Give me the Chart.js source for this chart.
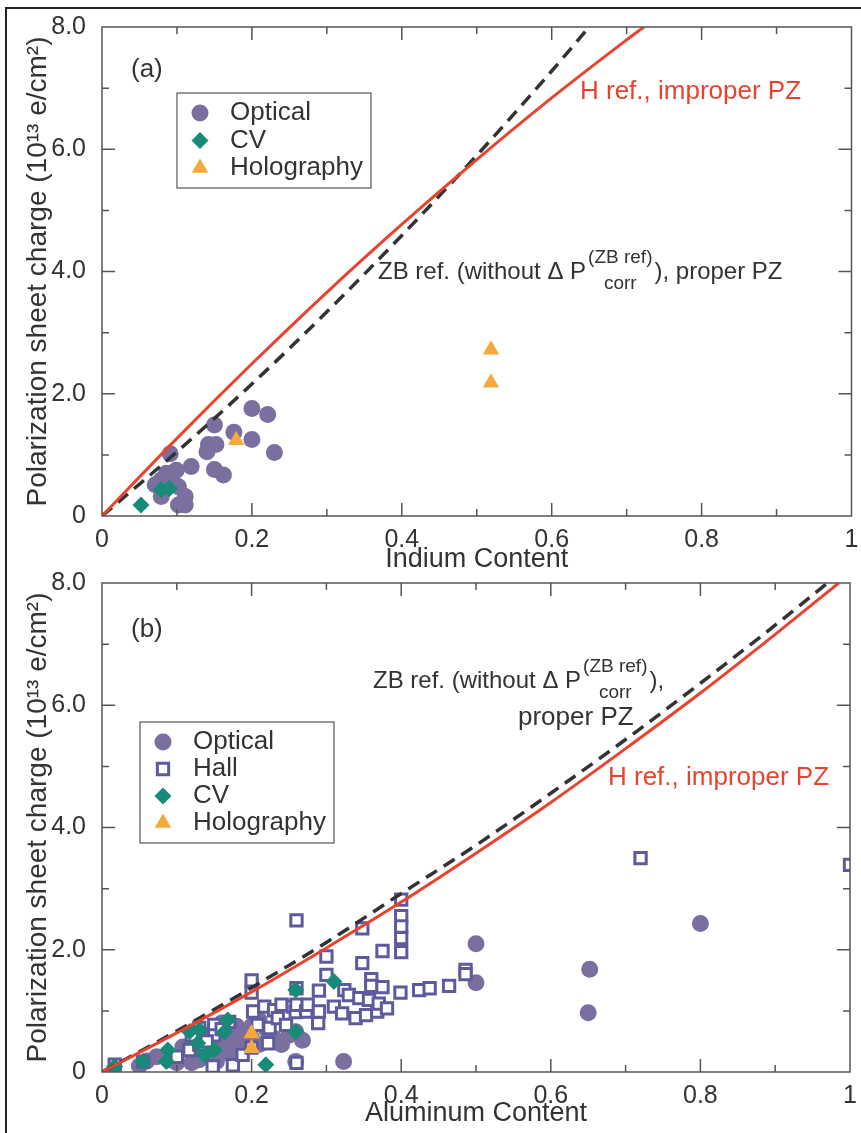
<!DOCTYPE html>
<html>
<head>
<meta charset="utf-8">
<script src="https://cdn.jsdelivr.net/npm/chart.js@4.4.1/dist/chart.umd.min.js"></script>
<style>
  body { margin: 0; background: #fff; width: 861px; height: 1133px; overflow: hidden; position: relative; }
  #frame { position: absolute; left: 5px; top: 7px; width: 900px; height: 1200px; border: 2px solid #222; }
  canvas { position: absolute; left: 0; }
  #chartA { top: 0; }
  #chartB { top: 560px; }
</style>
</head>
<body>
<div id="frame"></div>
<canvas id="chartA" width="861" height="580"></canvas>
<canvas id="chartB" width="861" height="573"></canvas>
<script>
// ---- panel (a): indium ----
const inOpticalX = [0.200, 0.221, 0.150, 0.176, 0.200, 0.142, 0.152, 0.230, 0.091, 0.140, 0.119, 0.150, 0.162, 0.099, 0.086, 0.079, 0.071, 0.102, 0.079, 0.111, 0.102, 0.111, 0.090, 0.095]
const inOpticalY = [1.76, 1.66, 1.49, 1.37, 1.25, 1.17, 1.17, 1.04, 1.02, 1.05, 0.81, 0.76, 0.67, 0.75, 0.70, 0.59, 0.51, 0.48, 0.32, 0.32, 0.18, 0.18, 0.62, 0.55]
const inCvX = [0.052, 0.079, 0.090]
const inCvY = [0.18, 0.43, 0.45]
const inHoloX = [0.179, 0.519, 0.519]
const inHoloY = [1.24, 2.72, 2.18]
const inHrefX = [0, 0.1, 0.2, 0.3, 0.4, 0.5, 0.6, 0.7, 0.723]
const inHrefY = [0, 1.27, 2.49, 3.66, 4.77, 5.83, 6.84, 7.79, 8.0]
const inZbX = [0, 0.1, 0.2, 0.3, 0.4, 0.5, 0.6, 0.65]
const inZbY = [0, 1.05, 2.16, 3.34, 4.59, 5.90, 7.28, 8.0]

// ---- panel (b): aluminum ----
const alOpticalX = [0.050, 0.060, 0.073, 0.090, 0.100, 0.108, 0.120, 0.126, 0.140, 0.140, 0.150, 0.153, 0.160, 0.161, 0.168, 0.170, 0.179, 0.180, 0.184, 0.190, 0.200, 0.210, 0.230, 0.250, 0.259, 0.259, 0.268, 0.323, 0.130, 0.150, 0.170, 0.180, 0.200, 0.220, 0.240, 0.160, 0.120, 0.210, 0.170, 0.500, 0.500, 0.652, 0.650, 0.800]
const alOpticalY = [0.10, 0.18, 0.25, 0.20, 0.15, 0.41, 0.30, 0.50, 0.60, 0.35, 0.45, 0.17, 0.80, 0.52, 0.66, 0.30, 0.55, 0.75, 0.41, 0.60, 0.75, 0.45, 0.55, 0.60, 0.17, 0.66, 0.52, 0.17, 0.20, 0.62, 0.50, 0.30, 0.55, 0.70, 0.45, 0.35, 0.15, 0.85, 0.75, 2.10, 1.46, 1.68, 0.97, 2.43]
const alHallX = [0.017, 0.055, 0.100, 0.117, 0.130, 0.150, 0.150, 0.148, 0.175, 0.188, 0.160, 0.170, 0.130, 0.120, 0.140, 0.200, 0.200, 0.202, 0.200, 0.208, 0.217, 0.222, 0.224, 0.230, 0.235, 0.246, 0.240, 0.255, 0.259, 0.260, 0.260, 0.260, 0.260, 0.273, 0.275, 0.289, 0.290, 0.290, 0.300, 0.300, 0.310, 0.321, 0.324, 0.330, 0.339, 0.344, 0.348, 0.348, 0.353, 0.357, 0.360, 0.360, 0.368, 0.370, 0.375, 0.375, 0.381, 0.399, 0.400, 0.400, 0.400, 0.400, 0.400, 0.424, 0.438, 0.464, 0.486, 0.486, 0.720, 1.000]
const alHallY = [0.12, 0.17, 0.25, 0.36, 0.45, 0.77, 0.60, 0.09, 0.11, 0.28, 0.70, 0.82, 0.72, 0.60, 0.50, 1.50, 1.30, 0.99, 0.40, 0.77, 1.07, 0.47, 0.72, 1.01, 0.88, 0.77, 1.10, 1.07, 0.98, 2.48, 1.37, 1.10, 0.15, 0.99, 1.10, 0.80, 1.33, 0.99, 1.89, 1.59, 1.07, 0.96, 1.34, 1.26, 0.88, 1.21, 2.35, 1.78, 0.93, 1.18, 1.52, 1.41, 0.99, 1.12, 1.98, 1.39, 1.04, 1.30, 2.82, 2.55, 2.38, 2.19, 1.96, 1.34, 1.37, 1.41, 1.67, 1.60, 3.50, 3.39]
const alCvX = [0.017, 0.055, 0.088, 0.086, 0.117, 0.130, 0.128, 0.137, 0.150, 0.164, 0.168, 0.219, 0.259, 0.259, 0.310]
const alCvY = [0.09, 0.17, 0.36, 0.17, 0.66, 0.69, 0.47, 0.28, 0.36, 0.66, 0.85, 0.12, 1.34, 0.66, 1.48]
const alHoloX = [0.200, 0.200]
const alHoloY = [0.63, 0.39]
const alHrefX = [0, 0.1, 0.2, 0.3, 0.4, 0.5, 0.6, 0.7, 0.8, 0.9, 0.985]
const alHrefY = [0, 0.64, 1.31, 2.03, 2.78, 3.58, 4.41, 5.29, 6.20, 7.16, 8.0]
const alZbX = [0, 0.1, 0.2, 0.3, 0.4, 0.5, 0.6, 0.7, 0.8, 0.9, 0.97]
const alZbY = [0, 0.67, 1.38, 2.12, 2.92, 3.71, 4.56, 5.44, 6.36, 7.31, 8.0]

// ---- axes ----
const xTicks = [0, 0.2, 0.4, 0.6, 0.8, 1]
const xTickLabels = ['0', '0.2', '0.4', '0.6', '0.8', '1']
const yTicks = [0, 2, 4, 6, 8]
const yTickLabels = ['0', '2.0', '4.0', '6.0', '8.0']

const C_OPT = '#7a6f9f', C_HALL = '#5d5b9c', C_CV = '#178a78', C_HOLO = '#f6a83c'
const C_RED = '#e8432e', C_DASH = '#333333', C_TXT = '#333333'
const FONT = "'Liberation Sans', Arial, sans-serif"

const pts = (xs, ys) => xs.map((x, i) => ({ x, y: ys[i] }))

function curve(label, xs, ys, color, dash) {
    return {
        label, data: pts(xs, ys), showLine: true, borderColor: color, borderWidth: dash ? 3.5 : 3,
        borderDash: dash || [], pointRadius: 0, cubicInterpolationMode: 'monotone', order: 0
    }
}
function marks(label, xs, ys, style, r, fill, border, bw, order) {
    return {
        label, data: pts(xs, ys), pointStyle: style, pointRadius: r,
        backgroundColor: fill, borderColor: border, borderWidth: bw, order
    }
}

// inward ticks + box around plot area
const frameTicks = {
    id: 'frameTicks',
    afterDraw(chart) {
        const { ctx, chartArea: a, scales: { x, y } } = chart
        ctx.save()
        ctx.strokeStyle = '#555'
        ctx.lineWidth = 1.5
        ctx.strokeRect(a.left, a.top, a.right - a.left, a.bottom - a.top)
        ctx.beginPath()
        for (let i = 1; i < 10; i++) {
            const px = x.getPixelForValue(i / 10), len = i % 2 == 0 ? 13 : 7
            ctx.moveTo(px, a.bottom); ctx.lineTo(px, a.bottom - len)
            ctx.moveTo(px, a.top); ctx.lineTo(px, a.top + len)
        }
        for (let i = 1; i < 8; i++) {
            const py = y.getPixelForValue(i), len = i % 2 == 0 ? 13 : 7
            ctx.moveTo(a.left, py); ctx.lineTo(a.left + len, py)
            ctx.moveTo(a.right, py); ctx.lineTo(a.right - len, py)
        }
        ctx.stroke()
        ctx.restore()
    }
}

// boxed legend + text labels
const notes = {
    id: 'notes',
    afterDraw(chart, args, opts) {
        const ctx = chart.ctx
        ctx.save()
        const lg = opts.legend
        ctx.strokeStyle = '#555'
        ctx.lineWidth = 1.2
        ctx.strokeRect(lg.left, lg.top, lg.width, lg.height)
        ctx.font = `26px ${FONT}`
        ctx.textBaseline = 'middle'
        lg.items.forEach((idx, k) => {
            const ds = chart.data.datasets[idx]
            const cy = lg.firstY + k * lg.gap
            ctx.fillStyle = ds.backgroundColor
            ctx.strokeStyle = ds.borderColor || ds.backgroundColor
            ctx.lineWidth = ds.borderWidth || 0
            Chart.helpers.drawPoint(ctx, { pointStyle: ds.pointStyle, radius: ds.pointRadius, borderWidth: ds.borderWidth || 0, rotation: 0 }, lg.markX, cy)
            ctx.fillStyle = C_TXT
            ctx.fillText(ds.label, lg.textX, cy)
        })
        opts.texts.forEach(t => {
            ctx.fillStyle = t.color || C_TXT
            let x = t.x
            ctx.textBaseline = 'alphabetic'
            t.parts.forEach(p => {
                if (typeof p == 'string') {
                    ctx.font = `${t.size || 26}px ${FONT}`
                    ctx.fillText(p, x, t.y)
                    x += ctx.measureText(p).width
                } else {
                    ctx.font = `19px ${FONT}`
                    const wSup = ctx.measureText(p.sup).width, wSub = ctx.measureText(p.sub).width
                    ctx.fillText(p.sup, x + 2, t.y - 16)
                    ctx.fillText(p.sub, x + 2 + (wSup - wSub) / 2, t.y + 10)
                    x += Math.max(wSup, wSub) + 4
                }
            })
        })
        ctx.restore()
    }
}

function makeChart(id, datasets, xTitle, axisH, padTop, titlePad, noteOpts) {
    return new Chart(document.getElementById(id), {
        type: 'scatter',
        data: { datasets },
        options: {
            responsive: false,
            animation: false,
            layout: { padding: { top: padTop, right: 8, left: 0, bottom: 0 } },
            plugins: { legend: { display: false }, tooltip: { enabled: false }, notes: noteOpts },
            scales: {
                x: {
                    min: 0, max: 1,
                    afterBuildTicks: s => { s.ticks = xTicks.map(v => ({ value: v })) },
                    afterFit: s => { s.height = axisH },
                    grid: { display: false },
                    border: { display: false },
                    ticks: { callback: (v, i) => xTickLabels[i], color: C_TXT, font: { family: FONT, size: 25 }, padding: 1, maxRotation: 0, autoSkip: false },
                    title: { display: true, text: xTitle, color: C_TXT, font: { family: FONT, size: 27 }, padding: { top: 0, bottom: titlePad } }
                },
                y: {
                    min: 0, max: 8,
                    afterBuildTicks: s => { s.ticks = yTicks.map(v => ({ value: v })) },
                    afterFit: s => { s.width = 102 },
                    grid: { display: false },
                    border: { display: false },
                    ticks: { callback: (v, i) => yTickLabels[i], color: C_TXT, font: { family: FONT, size: 25 }, padding: 8, autoSkip: false },
                    title: { display: true, text: 'Polarization sheet charge (10¹³ e/cm²)', color: C_TXT, font: { family: FONT, size: 28 }, padding: { top: 21, bottom: 0 } }
                }
            }
        },
        plugins: [frameTicks, notes]
    })
}

makeChart('chartA', [
    curve('H ref.', inHrefX, inHrefY, C_RED),
    curve('ZB ref.', inZbX, inZbY, C_DASH, [13, 8]),
    marks('Holography', inHoloX, inHoloY, 'triangle', 9.5, C_HOLO, C_HOLO, 0, 1),
    marks('CV', inCvX, inCvY, 'rectRot', 8.5, C_CV, C_CV, 0, 2),
    marks('Optical', inOpticalX, inOpticalY, 'circle', 8.5, C_OPT, C_OPT, 0, 4)
], 'Indium Content', 64, 27, 4, {
    legend: { left: 177, top: 93, width: 194, height: 95, markX: 200, textX: 230, firstY: 113, gap: 27.5, items: [4, 3, 2] },
    texts: [
        { x: 131, y: 77, parts: ['(a)'] },
        { x: 580, y: 99, parts: ['H ref., improper PZ'], color: C_RED },
        { x: 378, y: 279, size: 24, parts: ['ZB ref. (without Δ P', { sup: '(ZB ref)', sub: 'corr' }, '), proper PZ'] }
    ]
})

makeChart('chartB', [
    curve('H ref.', alHrefX, alHrefY, C_RED),
    curve('ZB ref.', alZbX, alZbY, C_DASH, [13, 8]),
    marks('Holography', alHoloX, alHoloY, 'triangle', 9.5, C_HOLO, C_HOLO, 0, 1),
    marks('CV', alCvX, alCvY, 'rectRot', 8.5, C_CV, C_CV, 0, 2),
    marks('Hall', alHallX, alHallY, 'rect', 8, '#ffffff', C_HALL, 3, 3),
    marks('Optical', alOpticalX, alOpticalY, 'circle', 8.5, C_OPT, C_OPT, 0, 4)
], 'Aluminum Content', 61, 23, 3, {
    legend: { left: 140, top: 162, width: 194, height: 121, markX: 163, textX: 193, firstY: 182, gap: 27, items: [5, 4, 3, 2] },
    texts: [
        { x: 131, y: 77, parts: ['(b)'] },
        { x: 373, y: 128, size: 24, parts: ['ZB ref. (without Δ P', { sup: '(ZB ref)', sub: 'corr' }, '),'] },
        { x: 518, y: 165, parts: ['proper PZ'] },
        { x: 608, y: 225, parts: ['H ref., improper PZ'], color: C_RED }
    ]
})
</script>
</body>
</html>
